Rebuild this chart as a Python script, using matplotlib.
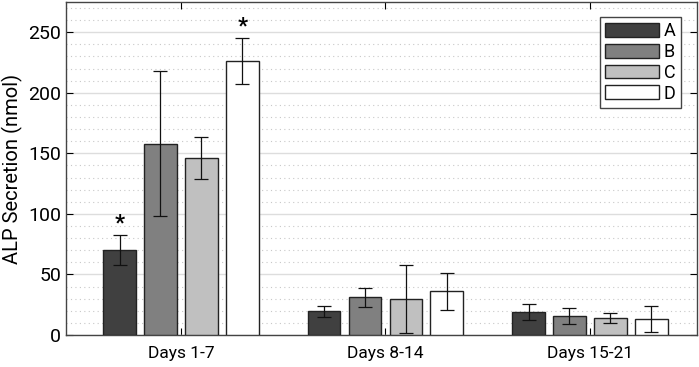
import numpy as np
import matplotlib.pyplot as plt
from matplotlib.ticker import MultipleLocator

groups = ['Days 1-7', 'Days 8-14', 'Days 15-21']
series = ['A', 'B', 'C', 'D']
colors = ['#404040', '#808080', '#c0c0c0', '#ffffff']

vals_A = [70, 19.5, 19]
vals_B = [158, 31, 15.7]
vals_C = [146, 30, 14.3]
vals_D = [226, 36, 13.2]
err_A = [12.3, 4.5, 6.5]
err_B = [59.7, 8, 6.7]
err_C = [17.5, 28, 4]
err_D = [19, 15.5, 10.7]

vals = [vals_A, vals_B, vals_C, vals_D]
errs = [err_A, err_B, err_C, err_D]

plt.rcParams['font.family'] = ['Roboto', 'DejaVu Sans']

fig = plt.figure(figsize=(6.99, 3.67), dpi=100)
ax = fig.add_axes([0.0944, 0.0872, 0.9026, 0.9074])

x = np.arange(1, len(groups) + 1)
step = 0.2
w = 0.16
for i in range(4):
    pos = x + (i - 1.5) * step
    ax.bar(pos, vals[i], w, color=colors[i], edgecolor='#222222', linewidth=1.0,
           label=series[i], zorder=3)
    ax.errorbar(pos, vals[i], yerr=errs[i], fmt='none', ecolor='#111111',
                elinewidth=0.9, capsize=5, capthick=0.9, zorder=4)

# significance marks
ax.text(x[0] - 1.5 * step, vals_A[0] + err_A[0] + 1, '*', ha='center', va='bottom',
        fontsize=16, fontweight='bold')
ax.text(x[0] + 1.5 * step, vals_D[0] + err_D[0] + 1, '*', ha='center', va='bottom',
        fontsize=16, fontweight='bold')

ax.set_xlim(0.438, 3.523)
ax.set_ylim(0, 275)
ax.set_xticks(x)
ax.set_xticklabels(groups, fontsize=12.5)
ax.yaxis.set_major_locator(MultipleLocator(50))
ax.yaxis.set_minor_locator(MultipleLocator(10))
ax.tick_params(axis='y', labelsize=14, direction='in', right=True, length=5)
ax.tick_params(axis='y', which='minor', length=0)
ax.tick_params(axis='x', direction='in', top=True, length=5, pad=8)
ax.set_ylabel('ALP Secretion (nmol)', fontsize=14.5)

ax.grid(axis='y', which='major', color='#dddddd', linestyle='-', linewidth=1.0, zorder=0)
ax.grid(axis='y', which='minor', color='#c8c8c8', linestyle=(0, (1, 3)), linewidth=0.8, zorder=0)
ax.set_axisbelow(True)
for s in ax.spines.values():
    s.set_color('#444444')
    s.set_linewidth(1.0)

leg = ax.legend(loc='upper right', fontsize=13, handlelength=3.0, handleheight=0.8,
                labelspacing=0.15, handletextpad=0.25, borderpad=0.3, borderaxespad=0,
                fancybox=False, framealpha=1, edgecolor='#444444',
                bbox_to_anchor=(0.975, 0.955))
leg.get_frame().set_linewidth(1.0)

fig.savefig('out.png', dpi=100)
